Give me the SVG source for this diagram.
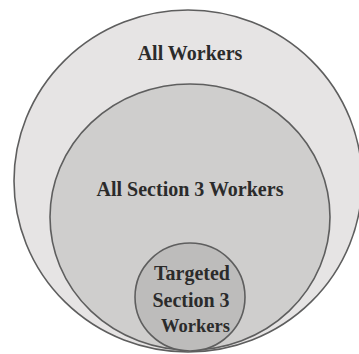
<svg xmlns="http://www.w3.org/2000/svg" width="359" height="354" viewBox="0 0 359 354">
  <style>
    .ring { stroke: #5e5e5e; stroke-width: 1.6; }
    .outer { fill: #e6e4e4; }
    .middle { fill: #cfcecd; }
    .inner { fill: #bdbcbb; }
    .label { font-family: "Liberation Serif", "DejaVu Serif", serif; font-weight: bold; font-size: 20px; fill: #2b2b2b; text-anchor: middle; }
    .small { font-size: 18.5px; }
  </style>
  <rect width="359" height="354" fill="#ffffff"/>
  <g id="all-workers">
    <ellipse class="ring outer" cx="188" cy="181" rx="174" ry="171"/>
    <text class="label" x="190" y="60">All Workers</text>
  </g>
  <g id="all-section-3-workers">
    <ellipse class="ring middle" cx="190" cy="217" rx="140" ry="133"/>
    <text class="label" x="190" y="196">All Section 3 Workers</text>
  </g>
  <g id="targeted-section-3-workers">
    <ellipse class="ring inner" cx="190" cy="297" rx="55" ry="54"/>
    <text class="label" x="192" y="280">Targeted</text>
    <text class="label" x="191" y="307">Section 3</text>
    <text class="label small" x="195.5" y="332">Workers</text>
  </g>
</svg>
